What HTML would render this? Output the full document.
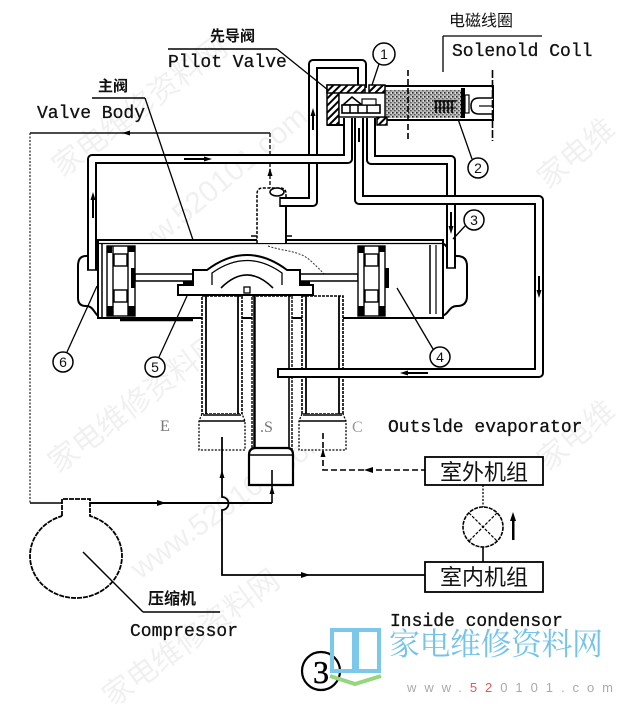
<!DOCTYPE html>
<html><head><meta charset="utf-8"><style>
html,body{margin:0;padding:0;background:#fff;}
svg{display:block;}
.m{font-family:"Liberation Mono",monospace;font-size:18px;fill:#111;stroke:#111;stroke-width:0.3;}
.c{font-family:"Liberation Sans","Noto Sans CJK SC",sans-serif;fill:#111;}
.wm{font-family:"Liberation Sans","Noto Sans CJK SC",sans-serif;fill:#000;fill-opacity:0.06;font-size:30px;}
</style></head><body>
<svg width="628" height="704" viewBox="0 0 628 704" xmlns="http://www.w3.org/2000/svg">
<defs>
<pattern id="h" width="5" height="5" patternUnits="userSpaceOnUse" patternTransform="rotate(45)">
<rect width="5" height="5" fill="#fff"/><rect x="0" y="0" width="2" height="5" fill="#000"/></pattern>
<pattern id="st" width="4" height="4" patternUnits="userSpaceOnUse">
<rect width="4" height="4" fill="#b5b5b5"/><rect x="0" y="0" width="1.5" height="1.5" fill="#222"/><rect x="2.2" y="2" width="1.3" height="1.3" fill="#444"/><rect x="3" y="0.5" width="1" height="1" fill="#fff"/></pattern>
</defs>
<rect width="628" height="704" fill="#fff"/>

<!-- watermarks -->
<text class="wm" transform="translate(62,178) rotate(-37)">家电维修资料网</text>
<text class="wm" transform="translate(128,272) rotate(-40)" font-size="28">www.520101.com</text>
<text class="wm" transform="translate(58,474) rotate(-37)">家电维修资料网</text>
<text class="wm" transform="translate(140,580) rotate(-36)" font-size="28">www.520101.com</text>
<text class="wm" transform="translate(112,708) rotate(-36)">家电维修资料网</text>
<text class="wm" transform="translate(548,190) rotate(-40)">家电维</text>
<text class="wm" transform="translate(548,472) rotate(-40)">家电维</text>

<!-- thin return line -->
<line x1="30" y1="133" x2="30" y2="503" stroke="#333" stroke-width="1.3" stroke-dasharray="2 1.5"/>
<line x1="30" y1="133" x2="270" y2="133" stroke="#111" stroke-width="1.5"/>
<line x1="270" y1="133" x2="270" y2="214" stroke="#222" stroke-width="1.5" stroke-dasharray="4 2"/>
<polygon points="122,133 130,130.5 130,135.5" fill="#000"/>
<polygon points="270,168 267.5,176 272.5,176" fill="#000"/>

<!-- main cylinder -->
<path d="M102,243 C94,243 95,256 86,256 Q78,256 78,266 V298 Q78,306 86,306 C95,306 94,317 102,317 Z" fill="#fff" stroke="#000" stroke-width="2"/>
<path d="M440,243 C449,243 448,256 457,256 Q467,256 467,266 V296 Q467,306 457,306 C448,306 449,316 440,316 Z" fill="#fff" stroke="#000" stroke-width="2"/>
<rect x="98" y="240" width="345" height="78" fill="#fff" stroke="#000" stroke-width="2"/>
<line x1="98" y1="243.5" x2="443" y2="243.5" stroke="#000" stroke-width="1.3"/>
<line x1="102" y1="244" x2="102" y2="318" stroke="#000" stroke-width="1.5"/>
<line x1="430" y1="245" x2="430" y2="314" stroke="#000" stroke-width="1.5"/>
<line x1="436" y1="245" x2="436" y2="314" stroke="#000" stroke-width="1.2"/>
<line x1="120" y1="320" x2="193" y2="320" stroke="#000" stroke-width="2.5"/>

<!-- top center tube -->
<path d="M257,243 V194 Q257,188 263,188 H280 Q286,188 286,194 V243" fill="#fff" stroke="#000" stroke-width="1.5" stroke-dasharray="3 1.5"/>
<line x1="286" y1="200" x2="286" y2="243" stroke="#000" stroke-width="2"/>
<line x1="251" y1="236" x2="257" y2="236" stroke="#000" stroke-width="1.5"/>
<line x1="286" y1="236" x2="292" y2="236" stroke="#000" stroke-width="1.5"/>
<ellipse cx="277" cy="192" rx="7" ry="4" fill="#fff" stroke="#000" stroke-width="1.5"/>
<path d="M268,246 C285,252 300,250 312,262 C320,270 324,272 326,280" fill="none" stroke="#333" stroke-width="1" stroke-dasharray="2 1.5"/>

<!-- rod -->
<rect x="135" y="274" width="223" height="7" fill="#fff" stroke="#000" stroke-width="1.5"/>
<rect x="183" y="281" width="10" height="4" fill="#000"/>
<rect x="300" y="281" width="10" height="4" fill="#000"/>

<!-- pistons -->
<g stroke="#000" stroke-width="1.4" fill="#fff">
<rect x="107" y="246" width="28" height="70"/>
<line x1="113" y1="246" x2="113" y2="316"/>
<line x1="128" y1="246" x2="128" y2="316"/>
<rect x="114" y="254" width="13" height="12"/>
<rect x="114" y="290" width="13" height="12"/>
<rect x="358" y="246" width="27" height="70"/>
<line x1="364" y1="246" x2="364" y2="316"/>
<line x1="379" y1="246" x2="379" y2="316"/>
<rect x="365" y="254" width="13" height="12"/>
<rect x="365" y="290" width="13" height="12"/>
</g>
<g fill="#000">
<rect x="107" y="246" width="5" height="7"/><rect x="107" y="306" width="6" height="10"/><rect x="128" y="306" width="7" height="10"/><rect x="128" y="246" width="7" height="6"/>
<rect x="358" y="246" width="6" height="7"/><rect x="358" y="306" width="6" height="10"/><rect x="379" y="306" width="6" height="10"/><rect x="379" y="246" width="6" height="6"/>
<rect x="131" y="268" width="4" height="20"/><rect x="385" y="268" width="4" height="20"/>
</g>

<!-- slide valve dome -->
<path d="M178,295 V285 H193 V270 H207 Q247,240 287,270 H300 V285 H313 V295 Z" fill="#fff" stroke="#000" stroke-width="2"/>
<path d="M212,285 V273 Q247,248 282,273 V285" fill="none" stroke="#000" stroke-width="1.3"/>
<path d="M221,288 Q247,262 273,288" fill="none" stroke="#000" stroke-width="1.6"/>
<rect x="244" y="287" width="6" height="6" fill="#fff" stroke="#000" stroke-width="1.3"/>

<!-- tubes E S C -->
<g fill="#fff" stroke="#000">
<rect x="202" y="296" width="40" height="118" stroke-width="1.6" stroke-dasharray="3 1"/>
<line x1="206" y1="296" x2="206" y2="414" stroke-width="1.8"/>
<line x1="238" y1="296" x2="238" y2="414" stroke-width="1.8"/>
<path d="M202,414 L199,421 V450 H245 V421 L242,414" stroke-width="1.3" stroke-dasharray="2 1.5" fill="#fff"/>
<line x1="203" y1="415" x2="241" y2="415" stroke-width="1.5"/>
<line x1="199" y1="421" x2="245" y2="421" stroke-width="1.5"/>

<rect x="302" y="296" width="41" height="118" stroke-width="1.6" stroke-dasharray="3 1"/>
<line x1="306" y1="296" x2="306" y2="414" stroke-width="1.8"/>
<line x1="339" y1="296" x2="339" y2="414" stroke-width="1.8"/>
<path d="M302,414 L299,421 V450 H346 V421 L343,414" stroke-width="1.3" stroke-dasharray="2 1.5" fill="#fff"/>
<line x1="303" y1="415" x2="342" y2="415" stroke-width="1.5"/>
<line x1="299" y1="421" x2="346" y2="421" stroke-width="1.5"/>

<rect x="252" y="296" width="40" height="154" stroke-width="1.4" stroke-dasharray="3 1"/>
<line x1="254.5" y1="296" x2="254.5" y2="450" stroke-width="2.5"/>
<line x1="289" y1="296" x2="289" y2="450" stroke-width="1.6"/>
<path d="M249,485 V455 Q249,448 256,448 H287 Q293,448 293,455 V485 Z" stroke-width="2.2"/>
<line x1="249" y1="455" x2="293" y2="455" stroke-width="1.4"/>
</g>
<text x="160" y="431" font-family="Liberation Serif,serif" font-size="16" fill="#777">E</text>
<text x="260" y="432" font-family="Liberation Serif,serif" font-size="16" fill="#777">.S</text>
<text x="352" y="432" font-family="Liberation Serif,serif" font-size="16" fill="#999">C</text>

<!-- pipes -->
<g fill="none" stroke-linejoin="round">
<path d="M280,202 H313 V64 H362 V88" stroke="#000" stroke-width="10"/>
<path d="M280,202 H313 V64 H362 V88" stroke="#fff" stroke-width="6"/>
<path d="M348,118 V159 H92 V270" stroke="#000" stroke-width="10"/>
<path d="M348,118 V159 H92 V270" stroke="#fff" stroke-width="6"/>
<path d="M371,118 V160 H451 V268" stroke="#000" stroke-width="10"/>
<path d="M371,118 V160 H451 V268" stroke="#fff" stroke-width="6"/>
<path d="M359,118 V200 H539 V373 H278" stroke="#000" stroke-width="10"/>
<path d="M359,118 V200 H539 V373 H278" stroke="#fff" stroke-width="6"/>
</g>
<line x1="278" y1="368" x2="278" y2="378" stroke="#000" stroke-width="2"/>
<line x1="280" y1="197" x2="280" y2="207" stroke="#000" stroke-width="1.5"/>
<line x1="87" y1="270" x2="97" y2="270" stroke="#000" stroke-width="1.5"/>
<line x1="446" y1="268" x2="456" y2="268" stroke="#000" stroke-width="1.5"/>
<!-- pipe arrows -->
<g fill="#000">
<rect x="184" y="158" width="22" height="2"/><polygon points="212,159 204,156.5 204,161.5"/>
<rect x="92" y="196" width="2" height="22"/><polygon points="93,192 90.5,200 95.5,200"/>
<rect x="312" y="112" width="2" height="18"/><polygon points="313,108 310.5,116 315.5,116"/>
<rect x="450" y="212" width="2" height="18"/><polygon points="451,234 448.5,226 453.5,226"/>
<rect x="538" y="276" width="2" height="18"/><polygon points="539,298 536.5,290 541.5,290"/>
<rect x="404" y="372" width="24" height="2"/><polygon points="400,373 408,370.5 408,375.5"/>
<rect x="358" y="128" width="2" height="14"/>
</g>

<!-- pilot valve -->
<rect x="383" y="86" width="110" height="34" fill="#fff" stroke="#000" stroke-width="2"/>
<rect x="385" y="90" width="76" height="28" fill="url(#st)"/>
<rect x="327" y="85" width="12" height="40" fill="url(#h)" stroke="#000" stroke-width="1.5"/>
<rect x="327" y="85" width="38" height="8" fill="url(#h)" stroke="#000" stroke-width="1.5"/>
<rect x="369" y="85" width="16" height="8" fill="url(#h)" stroke="#000" stroke-width="1.5"/>
<rect x="377" y="117" width="10" height="8" fill="url(#h)" stroke="#000" stroke-width="1.5"/>
<line x1="327" y1="125" x2="343" y2="125" stroke="#000" stroke-width="2"/>
<rect x="339" y="93" width="46" height="24" fill="#fff" stroke="#000" stroke-width="1.4"/>
<polygon points="343,105 352,97 362,105" fill="#fff" stroke="#000" stroke-width="1.6"/>
<rect x="342" y="105" width="38" height="8" fill="#fff" stroke="#000" stroke-width="1.6"/>
<line x1="350" y1="105" x2="350" y2="113" stroke="#000" stroke-width="1.5"/>
<line x1="358" y1="105" x2="358" y2="113" stroke="#000" stroke-width="1.5"/>
<line x1="367" y1="105" x2="367" y2="113" stroke="#000" stroke-width="1.5"/>
<rect x="362" y="99" width="14" height="6" fill="#fff" stroke="#000" stroke-width="1.2"/>
<!-- spring -->
<g stroke="#000" stroke-width="1.6">
<line x1="434" y1="101" x2="456" y2="101"/>
<line x1="436" y1="101" x2="436" y2="113"/><line x1="440" y1="101" x2="440" y2="113"/><line x1="444" y1="101" x2="444" y2="113"/><line x1="448" y1="101" x2="448" y2="113"/><line x1="452" y1="101" x2="452" y2="113"/>
<line x1="434" y1="108" x2="456" y2="108" stroke-width="1"/>
</g>
<rect x="461" y="88" width="4" height="30" fill="#000"/>
<rect x="465" y="95" width="4" height="18" fill="#fff" stroke="#000" stroke-width="1.2"/>
<path d="M493,98 H479 Q471,98 471,106 Q471,114 479,114 H493" fill="#fff" stroke="#000" stroke-width="1.6"/>
<line x1="479" y1="106" x2="493" y2="106" stroke="#000" stroke-width="1.2"/>
<line x1="408" y1="70" x2="408" y2="141" stroke="#000" stroke-width="1.6" stroke-dasharray="6 3"/>
<line x1="492.5" y1="70" x2="492.5" y2="141" stroke="#000" stroke-width="1.6" stroke-dasharray="8 2"/>

<!-- labels top -->
<text x="210" y="41" class="c" font-size="15" font-weight="bold">先导阀</text>
<line x1="168" y1="49" x2="277" y2="49" stroke="#000" stroke-width="1.5"/>
<line x1="277" y1="49" x2="328" y2="90" stroke="#000" stroke-width="1.3"/>
<text x="168" y="67" class="m">Pllot Valve</text>

<text x="98" y="91" class="c" font-size="15" font-weight="bold">主阀</text>
<line x1="92" y1="98" x2="145" y2="98" stroke="#000" stroke-width="1.5"/>
<line x1="145" y1="98" x2="193" y2="240" stroke="#000" stroke-width="1.3"/>
<text x="37" y="118" class="m">Valve Body</text>

<text x="449" y="26" class="c" font-size="16">电磁线圈</text>
<line x1="443" y1="36" x2="542" y2="36" stroke="#000" stroke-width="1.3"/>
<line x1="443" y1="36" x2="443" y2="72" stroke="#000" stroke-width="1.3"/>
<text x="452" y="56" class="m">Solenold Coll</text>

<!-- numbered callouts -->
<g fill="#fff" stroke="#000" stroke-width="1.5">
<circle cx="384" cy="54" r="11"/>
<circle cx="478" cy="168" r="10"/>
<circle cx="474" cy="220" r="10"/>
<circle cx="440" cy="357" r="10"/>
<circle cx="155" cy="367" r="10"/>
<circle cx="63" cy="362" r="10"/>
</g>
<g stroke="#000" stroke-width="1.3">
<line x1="379" y1="64" x2="372" y2="85"/>
<line x1="472" y1="159" x2="458" y2="119"/>
<line x1="465" y1="226" x2="453" y2="239"/>
<line x1="433" y1="349" x2="397" y2="288"/>
<line x1="159" y1="357" x2="187" y2="296"/>
<line x1="67" y1="352" x2="97" y2="286"/>
</g>
<g class="c" font-size="14" text-anchor="middle">
<text x="384" y="59">1</text>
<text x="478" y="173">2</text>
<text x="474" y="225">3</text>
<text x="440" y="362">4</text>
<text x="155" y="372">5</text>
<text x="63" y="367">6</text>
</g>

<!-- lower circuit -->
<path d="M62,516 V499 H90 V516 A46 42 0 1 1 62 516" fill="none" stroke="#000" stroke-width="1.8" stroke-dasharray="5 1"/>
<line x1="30" y1="503" x2="62" y2="503" stroke="#000" stroke-width="1.5"/>
<line x1="90" y1="503" x2="272" y2="503" stroke="#000" stroke-width="2"/>
<line x1="272" y1="503" x2="272" y2="470" stroke="#000" stroke-width="1.6"/>
<path d="M222,437 V497 A6.5 6.5 0 0 1 222 510 V575 H425" fill="none" stroke="#000" stroke-width="1.8"/>
<path d="M323,433 V470 H425" fill="none" stroke="#000" stroke-width="1.6" stroke-dasharray="6 3"/>
<g fill="#000">
<polygon points="166,503 157,500 157,506"/>
<polygon points="222,470 219.5,478 224.5,478"/>
<polygon points="272,486 269.5,494 274.5,494"/>
<polygon points="310,575 301,572 301,578"/>
<polygon points="323,449 320.5,457 325.5,457"/>
<polygon points="364,470 373,467 373,473"/>
<rect x="512" y="518" width="2.5" height="22"/>
<polygon points="513,512 510,521 516,521"/>
</g>

<rect x="425" y="457" width="118" height="28" fill="#fff" stroke="#000" stroke-width="1.8"/>
<rect x="425" y="562" width="118" height="30" fill="#fff" stroke="#000" stroke-width="1.8"/>
<text x="484" y="480" class="c" font-size="22" text-anchor="middle">室外机组</text>
<text x="484" y="585" class="c" font-size="22" text-anchor="middle">室内机组</text>
<line x1="483" y1="485" x2="483" y2="507" stroke="#000" stroke-width="1.3" stroke-dasharray="2 1.5"/>
<line x1="483" y1="547" x2="483" y2="562" stroke="#000" stroke-width="1.6"/>
<circle cx="483" cy="527" r="20" fill="#fff" stroke="#000" stroke-width="1.6" stroke-dasharray="4 1"/>
<line x1="469" y1="513" x2="497" y2="541" stroke="#000" stroke-width="1.2" stroke-dasharray="3 1.5"/>
<line x1="497" y1="513" x2="469" y2="541" stroke="#000" stroke-width="1.2" stroke-dasharray="3 1.5"/>

<text x="388" y="432" class="m">Outslde evaporator</text>
<text x="390" y="626" class="m">Inside condensor</text>

<text x="148" y="604" class="c" font-size="16" font-weight="bold">压缩机</text>
<line x1="143" y1="612" x2="220" y2="612" stroke="#000" stroke-width="1.5"/>
<line x1="143" y1="612" x2="83" y2="552" stroke="#000" stroke-width="1.5"/>
<text x="130" y="636" class="m">Compressor</text>

<!-- figure number -->
<circle cx="321" cy="671" r="19" fill="none" stroke="#000" stroke-width="2.2"/>
<text x="321" y="683" font-family="Liberation Serif,serif" font-size="32" text-anchor="middle" fill="#000" stroke="#000" stroke-width="0.5">3</text>

<!-- logo -->
<rect x="332" y="630" width="22" height="41" fill="none" stroke="#7cc8ea" stroke-width="4"/>
<rect x="357" y="630" width="22" height="41" fill="none" stroke="#7cc8ea" stroke-width="4"/>
<polyline points="330,676 355,684 381,676" fill="none" stroke="#95d67e" stroke-width="4"/>
<text x="389" y="655" font-family="Liberation Serif,'Noto Serif CJK SC',serif" font-size="31" fill="#74c3e8" textLength="214">家电维修资料网</text>
<text x="407" y="692" font-family="Liberation Sans,sans-serif" font-size="13" textLength="206" fill="#aaa">www.<tspan fill="#e05858">52</tspan>0101.com</text>
</svg>
</body></html>
